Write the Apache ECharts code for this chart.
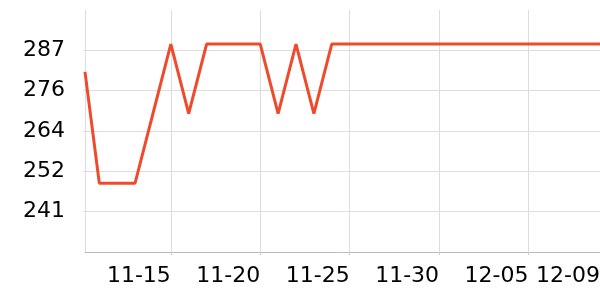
<!DOCTYPE html>
<html>
<head>
<meta charset="utf-8">
<script src="https://cdn.jsdelivr.net/npm/echarts@6/dist/echarts.min.js"></script>
<style>html,body{margin:0;padding:0;background:#fff;overflow:hidden}#c{width:600px;height:300px}</style>
</head>
<body>
<div id="c"></div>
<script>
// x values: days since 11-10 00:00
const dayOffsets = [0.2, 1, 2, 3, 4, 5, 6, 7, 8, 9, 10, 11, 12, 13, 14, 15, 16, 17, 18, 19, 20, 21, 22, 23, 24, 25, 26, 27, 28, 29];
const values =     [281, 249, 249, 249, 269, 289, 269, 289, 289, 289, 289, 269, 289, 269, 289, 289, 289, 289, 289, 289, 289, 289, 289, 289, 289, 289, 289, 289, 289, 289];
const dateLabels = {0:'11-10',5:'11-15',10:'11-20',15:'11-25',20:'11-30',25:'12-05',29:'12-09'};
const yMin = 229.2, yMax = 298.8, yInterval = 11.6;

const chart = echarts.init(document.getElementById('c'), null, {renderer: 'canvas'});
chart.setOption({
  animation: false,
  grid: {left: 85, right: 0, top: 10, bottom: 48, containLabel: false, outerBoundsMode: 'none'},
  xAxis: {
    type: 'value',
    min: 0.2,
    max: 29,
    axisLine: {show: true, lineStyle: {color: '#bbb', width: 1}},
    axisTick: {show: true, length: 3, lineStyle: {color: '#ccc'}},
    splitLine: {show: true, showMaxLine: false, lineStyle: {color: '#ddd', width: 1}},
    axisLabel: {
      showMinLabel: false,
      showMaxLabel: true,
      align: 'right',
      margin: 13,
      fontFamily: 'DejaVu Sans',
      fontSize: 22,
      color: '#000',
      formatter: function (v) {
        const k = Math.round(v);
        return dateLabels[k] || '';
      }
    }
  },
  yAxis: {
    type: 'value',
    min: yMin,
    max: yMax,
    interval: yInterval,
    axisLine: {show: false},
    axisTick: {show: true, length: 2, lineStyle: {color: '#ddd'}},
    splitLine: {show: true, showMinLine: false, showMaxLine: false, lineStyle: {color: '#ddd', width: 1}},
    axisLabel: {
      showMinLabel: false,
      showMaxLabel: false,
      margin: 20,
      padding: [3, 0, 0, 0],
      fontFamily: 'DejaVu Sans',
      fontSize: 22,
      color: '#000',
      formatter: function (v) { return String(Math.round(v)); }
    }
  },
  series: [{
    type: 'line',
    data: dayOffsets.map((d, i) => [d, values[i]]),
    showSymbol: false,
    symbol: 'none',
    clip: false,
    lineStyle: {color: '#ef4a2c', width: 3},
    itemStyle: {color: '#ef4a2c'}
  }]
});
</script>
</body>
</html>
